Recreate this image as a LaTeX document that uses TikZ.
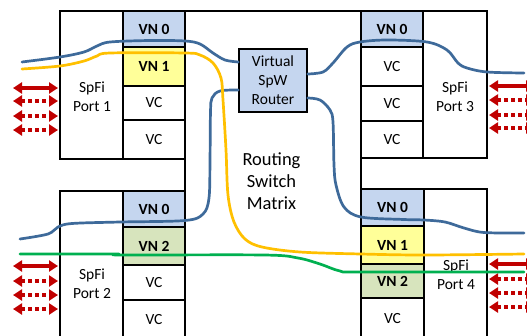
\documentclass[tikz,border=0pt]{standalone}
\usepackage{fontspec}
\setmainfont{Carlito}
\usetikzlibrary{arrows.meta}
\definecolor{vnblue}{HTML}{C5D6EF}
\definecolor{vnyellow}{HTML}{FFFF99}
\definecolor{vngreen}{HTML}{D7E4BD}
\definecolor{lnblue}{HTML}{3E6A9A}
\definecolor{lnorange}{HTML}{FFC000}
\definecolor{lngreen}{HTML}{00B050}
\definecolor{arred}{HTML}{C00000}
\begin{document}
\begin{tikzpicture}[x=1pt,y=-1pt,
  box/.style={draw=black, line width=1.3pt, fill=white, inner sep=0pt},
  cell/.style={box, minimum width=62pt},
  vn/.style={cell, font=\fontsize{15.5}{19}\selectfont\bfseries},
  vc/.style={cell, font=\fontsize{15.5}{19}\selectfont},
  lbl/.style={align=center, font=\fontsize{15.5}{19}\selectfont, inner sep=0pt},
  dblarrow/.style={draw=arred, line width=3.2pt, {Triangle[length=9pt,width=11pt]}-{Triangle[length=9pt,width=11pt]}},
  dotline/.style={dash pattern=on 3.5pt off 3.5pt},
  curve/.style={line width=2.7pt, line join=round, line cap=round}
]
\useasboundingbox (0,0) rectangle (527,335);
\clip (0,0) rectangle (527,335);

% routing switch matrix
\node[box, minimum width=176pt, minimum height=334pt] (matrix) at (273,178) {};
\node[lbl, font=\fontsize{18.5}{22}\selectfont] (mlabel) at (271.5,181) {Routing\\Switch\\Matrix};

% Port 1
\node[box, minimum width=125pt, minimum height=148pt] (p1) at (122.5,85) {};
\node[vn, fill=vnblue, minimum height=36pt] (p1n0) at (154,29) {VN 0};
\node[vn, fill=vnyellow, minimum height=39pt] (p1n1) at (154,66.5) {VN 1};
\node[vc, minimum height=34pt] (p1c1) at (154,103) {VC};
\node[vc, minimum height=39pt] (p1c2) at (154,139.5) {VC};
\node[lbl] (p1l) at (92,97) {SpFi\\Port 1};

% Port 3
\node[box, minimum width=126pt, minimum height=147pt] (p3) at (424,84.5) {};
\node[vn, fill=vnblue, minimum height=36pt] (p3n0) at (392,29) {VN 0};
\node[vc, minimum height=39pt] (p3c1) at (392,66.5) {VC};
\node[vc, minimum height=35pt] (p3c2) at (392,103.5) {VC};
\node[vc, minimum height=37pt] (p3c3) at (392,139.5) {VC};
\node[lbl] (p3l) at (455,97) {SpFi\\Port 3};

% Port 2
\node[box, minimum width=125pt, minimum height=149pt] (p2) at (122.5,265.5) {};
\node[vn, fill=vnblue, minimum height=36pt] (p2n0) at (154,209) {VN 0};
\node[vn, fill=vngreen, minimum height=38pt] (p2n2) at (154,246) {VN 2};
\node[vc, minimum height=35pt] (p2c1) at (154,282.5) {VC};
\node[vc, minimum height=40pt] (p2c2) at (154,320) {VC};
\node[lbl] (p2l) at (92,284) {SpFi\\Port 2};

% Port 4
\node[box, minimum width=126pt, minimum height=151pt] (p4) at (424,264.5) {};
\node[vn, fill=vnblue, minimum width=63pt, minimum height=37pt] (p4n0) at (392.5,207.5) {VN 0};
\node[vn, fill=vnyellow, minimum width=63pt, minimum height=38pt] (p4n1) at (392.5,245) {VN 1};
\node[vn, fill=vngreen, minimum width=63pt, minimum height=34pt] (p4n2) at (392.5,281) {VN 2};
\node[vc, minimum width=63pt, minimum height=42pt] (p4c1) at (392.5,319) {VC};
\node[lbl] (p4l) at (456,275) {SpFi\\Port 4};

% Router
\node[box, fill=vnblue, minimum width=68pt, minimum height=63pt, align=center,
      font=\fontsize{15.5}{19}\selectfont] (router) at (273,80.5) {Virtual\\SpW\\Router};

% link arrows
\foreach \i/\y/\st in {1/88/solid,2/101/dotline,3/116/dotline,4/130/dotline,
                       5/266/solid,6/281/dotline,7/295/dotline,8/309/dotline}{
  \coordinate (la\i) at (13,\y);
  \coordinate (lb\i) at (58,\y);
  \draw[dblarrow,\st] (la\i) -- (lb\i);
}
\foreach \i/\y/\st in {1/86/solid,2/100/dotline,3/115/dotline,4/128/dotline,
                       5/264/solid,6/279/dotline,7/293/dotline,8/307/dotline}{
  \coordinate (ra\i) at (489,\y);
  \coordinate (rb\i) at (535,\y);
  \draw[dblarrow,\st] (ra\i) -- (rb\i);
}

% curve end points
\coordinate (r1) at ([yshift=18.5pt]router.west);
\coordinate (r2) at ([yshift=-9.5pt]router.west);
\coordinate (r3) at ([yshift=6.5pt]router.east);
\coordinate (r4) at ([yshift=-17.5pt]router.east);
\coordinate (b1s) at (22,62);
\coordinate (b2s) at (20,239);
\coordinate (b3e) at (524,73);
\coordinate (b4e) at (524,233);
\coordinate (os) at (22,69);
\coordinate (oe) at (524,254);
\coordinate (gs) at (20,254);
\coordinate (ge) at (524,272);

% blue 1
\draw[curve, lnblue] plot[smooth, tension=0.55] coordinates {(b1s) (60,57) (84,52) (97,46) (110,42) (150,40.5) (185,41) (200,44) (213,53) (225,60) (r1)};
% blue 2
\draw[curve, lnblue] plot[smooth, tension=0.55] coordinates {(r2) (220,91) (212,98) (210.5,112) (210,160) (209,198) (203,214) (185,220.5) (120,222) (72,223.5) (58,227) (48,234) (b2s)};
% blue 3
\draw[curve, lnblue] plot[smooth, tension=0.55] coordinates {(r3) (323,72) (333,63) (347,47) (360,42) (387,40) (427,42) (447,50) (458,63) (467,68) (487,72) (b3e)};
% blue 4
\draw[curve, lnblue] plot[smooth, tension=0.55] coordinates {(r4) (320,100) (330,110) (333,122) (334,165) (336,185) (344,207) (361,217) (404,219.5) (424,220) (445,222) (464,228) (484,232.5) (b4e)};
% orange
\draw[curve, lnorange] plot[smooth, tension=0.55] coordinates {(os) (60,66) (84,61) (97,56) (110,53) (185,53) (200,55) (213,63) (221,78) (223,100) (226,150) (228,195) (234,222) (245,239) (262,247) (300,252) (361,254) (424,255) (oe)};
% green
\draw[curve, lngreen] plot[smooth, tension=0.55] coordinates {(gs) (115,254) (121,255) (264,255) (298,258) (320,264) (340,271) (361,272) (ge)};
\end{tikzpicture}
\end{document}
